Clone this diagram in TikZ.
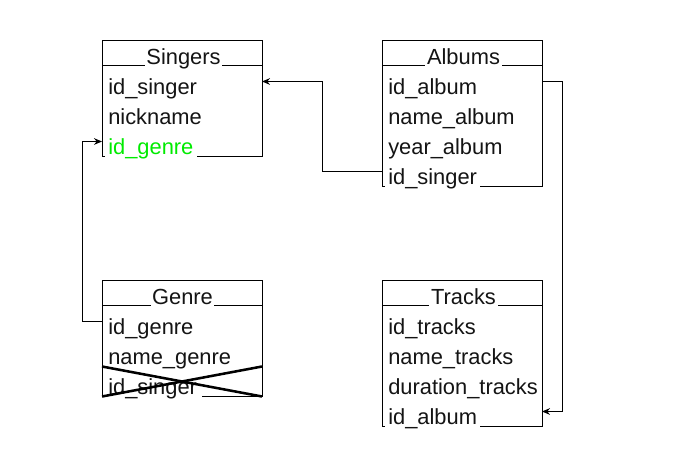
\documentclass[tikz,border=0pt]{standalone}
\usepackage{fontspec}
\setmainfont{Liberation Sans}
\usetikzlibrary{arrows.meta}
\definecolor{fkgreen}{RGB}{0,235,0}
\definecolor{txt}{RGB}{20,20,20}
\begin{document}
\begin{tikzpicture}[x=0.75pt,y=-0.75pt,
  edge/.style={line width=0.75pt,black},
  conn/.style={line width=0.75pt,black,-{Stealth[length=6pt,width=5pt]}},
  rowtxt/.style={anchor=base west,inner sep=0pt,font=\fontsize{16.4}{19}\selectfont,text=txt},
  ttl/.style={anchor=base,inner sep=0pt,font=\fontsize{16.4}{19}\selectfont,text=txt},
  cross/.style={line width=1.9pt,black}]
\useasboundingbox (0,0) rectangle (676,473);
\fill[white] (0,0) rectangle (676,473);

% ---------- Singers ----------
\draw[edge] (102,157) -- (102,40.5) -- (262,40.5) -- (262,157);
\draw[edge] (102,66) -- (145,66) (222,66) -- (262,66);
\draw[edge] (102,157) -- (105,157) (197,157) -- (262,157);
\node[ttl] (sT) at (183.5,64.5) {Singers};
\node[rowtxt] (s1) at (108,94.5) {id\_singer};
\node[rowtxt] (s2) at (108,124.5) {nickname};
\node[rowtxt,text=fkgreen] (s3) at (108,154.5) {id\_genre};
\coordinate (sIn1) at (262,81.5);
\coordinate (sIn3) at (102,141.5);

% ---------- Albums ----------
\draw[edge] (382,187) -- (382,40.5) -- (542,40.5) -- (542,187);
\draw[edge] (382,66) -- (425,66) (502,66) -- (542,66);
\draw[edge] (382,187) -- (385,187) (480,187) -- (542,187);
\node[ttl] (aT) at (463.5,64.5) {Albums};
\node[rowtxt] (a1) at (388,94.5) {id\_album};
\node[rowtxt] (a2) at (388,124.5) {name\_album};
\node[rowtxt] (a3) at (388,154.5) {year\_album};
\node[rowtxt] (a4) at (388,184.5) {id\_singer};
\coordinate (aOut1) at (542,81.5);
\coordinate (aOut4) at (382,171.5);

% ---------- Genre ----------
\draw[edge] (102,397) -- (102,281) -- (262,281) -- (262,397);
\draw[edge] (102,306) -- (151,306) (214,306) -- (262,306);
\draw[edge] (102,397) -- (105,397) (202,397) -- (262,397);
\node[ttl] (gT) at (182.5,304.5) {Genre};
\node[rowtxt] (g1) at (108,334.5) {id\_genre};
\node[rowtxt] (g2) at (108,364.5) {name\_genre};
\node[rowtxt] (g3) at (108,394.5) {id\_singer};
\coordinate (gOut1) at (102,321.5);
\coordinate (xA) at (102,366.5);
\coordinate (xB) at (262,396.5);
\coordinate (xC) at (102,396.5);
\coordinate (xD) at (262,366.5);
\draw[cross] (xA) -- (xB);
\draw[cross] (xC) -- (xD);

% ---------- Tracks ----------
\draw[edge] (382,427) -- (382,281) -- (542,281) -- (542,427);
\draw[edge] (382,306) -- (429,306) (498,306) -- (542,306);
\draw[edge] (382,427) -- (385,427) (480,427) -- (542,427);
\node[ttl] (tT) at (463.5,304.5) {Tracks};
\node[rowtxt] (t1) at (388,334.5) {id\_tracks};
\node[rowtxt] (t2) at (388,364.5) {name\_tracks};
\node[rowtxt] (t3) at (388,394.5) {duration\_tracks};
\node[rowtxt] (t4) at (388,424.5) {id\_album};
\coordinate (tIn4) at (542,411.5);

% ---------- connectors ----------
\draw[conn] (aOut4) -- (322.5,171.5) -- (322.5,81.5) -- (sIn1);
\draw[conn] (aOut1) -- (562.5,81.5) -- (562.5,411.5) -- (tIn4);
\draw[conn] (gOut1) -- (82.5,321.5) -- (82.5,141.5) -- (sIn3);
\end{tikzpicture}
\end{document}
